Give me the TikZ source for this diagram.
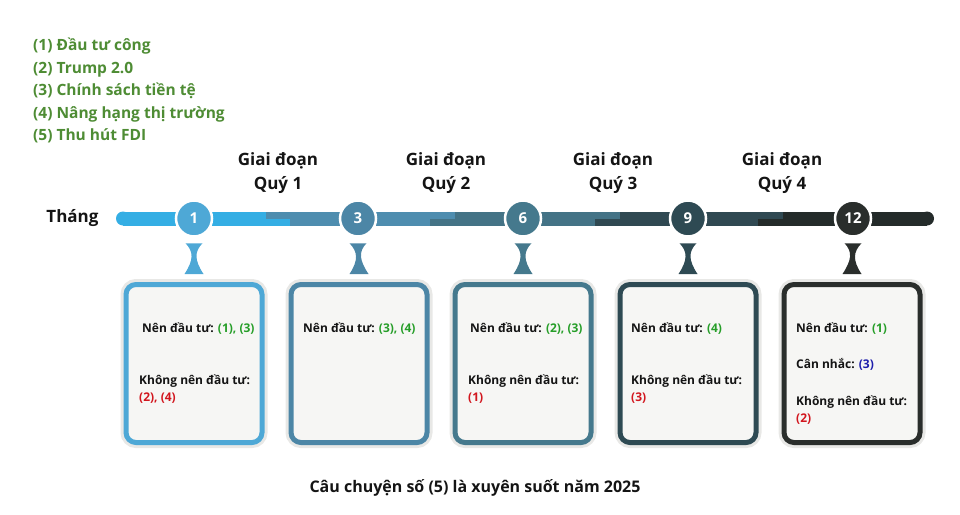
\documentclass[tikz,border=0pt]{standalone}
\usepackage{fontspec}
\setmainfont{Open Sans}
\usetikzlibrary{calc}

\definecolor{ink}{RGB}{20,20,20}
\definecolor{legendgreen}{RGB}{78,140,52}
\definecolor{good}{RGB}{38,158,40}
\definecolor{bad}{RGB}{210,22,30}
\definecolor{maybe}{RGB}{30,30,172}
\definecolor{bar0}{RGB}{52,174,228}
\definecolor{bar1}{RGB}{78,141,175}
\definecolor{bar2}{RGB}{68,115,134}
\definecolor{bar3}{RGB}{48,73,82}
\definecolor{bar4}{RGB}{36,43,42}
\definecolor{dot1}{RGB}{78,168,214}
\definecolor{dot2}{RGB}{76,134,166}
\definecolor{dot3}{RGB}{69,121,141}
\definecolor{dot4}{RGB}{46,74,83}
\definecolor{dot5}{RGB}{42,46,44}
\definecolor{cardfill}{RGB}{246,246,244}
\definecolor{cardedge}{RGB}{232,232,230}

\begin{document}
\begin{tikzpicture}[x=1pt,y=-1pt,
    lbl/.style={font=\fontsize{12}{14}\selectfont\bfseries, inner sep=0pt, text height=8.6pt, text depth=0pt, anchor=west, text=ink},
    head/.style={font=\fontsize{17}{24}\selectfont\bfseries, inner sep=0pt, align=center, text=ink},
    legend/.style={font=\fontsize{15.5}{18}\selectfont\bfseries, inner sep=0pt, text height=11pt, text depth=0pt, anchor=west, text=legendgreen},
    dot/.style={circle, minimum size=36pt, inner sep=0pt, draw=white, line width=2.5pt, font=\fontsize{15}{15}\selectfont\bfseries, text=white},
    card/.style={rounded corners=10pt, minimum width=136pt, minimum height=158pt, line width=5pt, fill=cardfill, preaction={draw=cardedge, line width=11pt}}]
    \useasboundingbox (0,0) rectangle (960,514);

    % legend
    \node[legend] (s1) at (33,45) {(1) Đầu tư công};
    \node[legend] (s2) at (33,67.5) {(2) Trump 2.0};
    \node[legend] (s3) at (33,90) {(3) Chính sách tiền tệ};
    \node[legend] (s4) at (33,112.5) {(4) Nâng hạng thị trường};
    \node[legend] (s5) at (33,135) {(5) Thu hút FDI};

    % quarters
    \node[head] (q1) at (278,173) {Giai đoạn\\Quý 1};
    \node[head] (q2) at (446,173) {Giai đoạn\\Quý 2};
    \node[head] (q3) at (613,173) {Giai đoạn\\Quý 3};
    \node[head] (q4) at (782,173) {Giai đoạn\\Quý 4};
    \node[head] (month) at (72.5,218.5) {Tháng};

    % timeline bar
    \fill[bar0] (123,218.5) circle (7);
    \fill[bar4] (927,218.5) circle (7);
    \foreach \a/\b/\c in {123/266/bar0, 266/455/bar1, 455/620/bar2, 620/783/bar3, 783/927/bar4}
    \fill[\c] (\a,211.5) rectangle (\b,218.6);
    \foreach \a/\b/\c in {123/290/bar0, 290/430/bar1, 430/595/bar2, 595/758/bar3, 758/927/bar4}
    \fill[\c] (\a,218.5) rectangle (\b,225.5);

    % months and cards
    \foreach \n/\x/\lab in {1/194/1, 2/358/3, 3/523/6, 4/688/9, 5/853/12}
    \node[dot, fill=dot\n] (m\n) at (\x,218.5) {\lab};
    \foreach \n/\x in {1/194, 2/359, 3/523, 4/688, 5/852}
    \node[card, draw=dot\n] (b\n) at (\x,363.5) {};

    \foreach \n in {1,...,5}
    \fill[dot\n] ($(m\n.south)+(-8.5,5.5)$) .. controls ($(m\n.south)+(-0.3,14)$) and ($(b\n.north)+(-0.3,-22)$) .. ($(b\n.north)+(-9.5,-8)$)
      -- ($(b\n.north)+(9.5,-8)$) .. controls ($(b\n.north)+(0.3,-22)$) and ($(m\n.south)+(0.3,14)$) .. ($(m\n.south)+(8.5,5.5)$) -- cycle;

    % card texts
    \node[lbl] (yes1) at (142,328) {Nên đầu tư: \textcolor{good}{(1), (3)}};
    \node[lbl] (no1) at (139,380) {Không nên đầu tư:};
    \node[lbl, text=bad] (nov1) at (139,397) {(2), (4)};

    \node[lbl] (yes2) at (303,328) {Nên đầu tư: \textcolor{good}{(3), (4)}};

    \node[lbl] (yes3) at (470,328) {Nên đầu tư: \textcolor{good}{(2), (3)}};
    \node[lbl] (no3) at (468,380) {Không nên đầu tư:};
    \node[lbl, text=bad] (nov3) at (468,397) {(1)};

    \node[lbl] (yes4) at (631,328) {Nên đầu tư: \textcolor{good}{(4)}};
    \node[lbl] (no4) at (631,380) {Không nên đầu tư:};
    \node[lbl, text=bad] (nov4) at (631,397) {(3)};

    \node[lbl] (yes5) at (796,328) {Nên đầu tư: \textcolor{good}{(1)}};
    \node[lbl] (hold5) at (796,364) {Cân nhắc: \textcolor{maybe}{(3)}};
    \node[lbl] (no5) at (796,401) {Không nên đầu tư:};
    \node[lbl, text=bad] (nov5) at (796,418) {(2)};

    \node[head, font=\fontsize{16}{18}\selectfont\bfseries] (story) at (475,488) {Câu chuyện số (5) là xuyên suốt năm 2025};
\end{tikzpicture}
\end{document}
